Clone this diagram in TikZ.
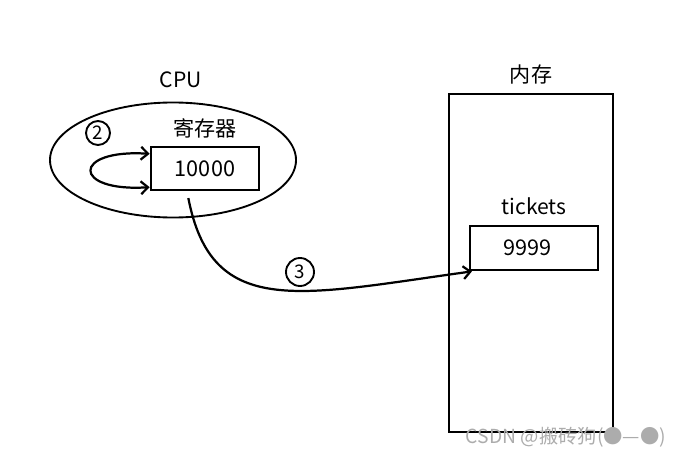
\documentclass[tikz,border=0pt]{standalone}
\usepackage{fontspec}
\setmainfont{Noto Sans CJK SC}
\usetikzlibrary{
    positioning,
    arrows.meta,
    shapes.geometric
}
\tikzset{%
    label text/.style={%
        inner sep = 0pt,
        outer sep = 0pt,
        font=\fontsize{18}{20}\selectfont
    },
    value box/.style={%
        rectangle,
        draw,
        line width=2.4pt,
        inner sep = 0pt,
        font=\fontsize{18.5}{20}\selectfont
    },
    step number/.style={%
        circle,
        draw,
        line width=1.6pt,
        inner sep = 0pt,
        font=\fontsize{16}{18}\selectfont
    },
    arrow/.style={%
        line width=1.9pt,
        >={Straight Barb[length=6pt,width=11pt]},
    },
}

\begin{document}
\begin{tikzpicture}[x=0.03cm, y=-0.03cm]
    \useasboundingbox (0,0) rectangle (684,457);

    % CPU side
    \node[ellipse, draw, line width=1.6pt, minimum width=7.38cm, minimum height=3.45cm] (cpu) at (173,160) {};
    \node[label text] (cpu label) at (181,80) {CPU};
    \node[value box, minimum width=3.24cm, minimum height=1.29cm] (reg) at (205,168.5) {10000};
    \node[label text, above=0.22cm of reg] (reg label) {寄存器};
    \node[step number, minimum size=0.72cm] (step2) at (98,133) {2};

    \draw[arrow, <->] ([yshift=0.44cm]reg.west) .. controls +(-78,-5) and +(-78,5) .. ([yshift=-0.56cm]reg.west);

    % memory side
    \node[value box, minimum width=4.92cm, minimum height=10.14cm] (mem) at (531,263) {};
    \node[label text, above=0.25cm of mem] (mem label) {内存};
    \node[value box, minimum width=3.84cm, minimum height=1.32cm] (val) at (534,248) {\hspace*{-0.4cm}9999};
    \node[label text, above=0.28cm of val] (val label) {tickets};

    % write back
    \node[step number, minimum size=0.84cm] (step3) at (300,272) {3};
    \draw[arrow, ->] ([xshift=-0.5cm, yshift=-0.2cm]reg.south) .. controls (212,320) and (300,295) .. ([xshift=0.1cm]val.south west);

    \node[text=gray!65, inner sep=0pt, font=\fontsize{16.5}{18}\selectfont] (mark) at (566,437) {CSDN @搬砖狗(●—●)};
\end{tikzpicture}
\end{document}
